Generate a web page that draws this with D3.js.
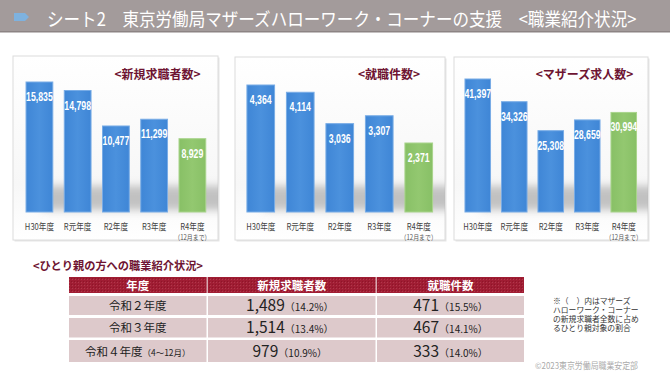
<!DOCTYPE html>
<html><head><meta charset="utf-8">
<script src="https://cdn.jsdelivr.net/npm/d3@7"></script>
<style>
html,body{margin:0;padding:0;background:#fff;}
svg{display:block;font-family:"Noto Sans CJK JP","Noto Sans",sans-serif;}
</style></head>
<body>
<script>
// ---- data ----
const categories = ["H30年度","R元年度","R2年度","R3年度","R4年度"];
const newSeekers = [15835,14798,10477,11299,8929];
const placements = [4364,4114,3036,3307,2371];
const motherJobs = [41397,34326,25308,28659,30994];
const panelTitles = ["<新規求職者数>","<就職件数>","<マザーズ求人数>"];
const lastNote = "（12月まで）";

const tableTitle = "<ひとり親の方への職業紹介状況>";
const tableHeaders = ["年度","新規求職者数","就職件数"];
const tableYears = ["令和２年度","令和３年度","令和４年度"];
const tableYearNotes = ["","","（4～12月）"];
const seekerCounts = ["1,489","1,514","979"];
const seekerShares = ["（14.2%）","（13.4%）","（10.9%）"];
const placeCounts = ["471","467","333"];
const placeShares = ["（15.5%）","（14.1%）","（14.0%）"];
const noteLines = ["※（　）内はマザーズ","ハローワーク・コーナー","の新規求職者全数に占め","るひとり親対象の割合"];
const copyright = "©2023東京労働局職業安定部";
const mainTitle = "シート2　東京労働局マザーズハローワーク・コーナーの支援　<職業紹介状況>";

const W=670,H=377;
const svg=d3.select("body").append("svg").attr("width",W).attr("height",H);
const defs=svg.append("defs");
defs.append("filter").attr("id","blur").attr("x","-20%").attr("y","-50%").attr("width","140%").attr("height","200%")
  .append("feGaussianBlur").attr("stdDeviation",4);
const pg=defs.append("linearGradient").attr("id","panelBg").attr("x1",0).attr("y1",0).attr("x2",0).attr("y2",1);
pg.append("stop").attr("offset","0%").attr("stop-color","#ffffff");
pg.append("stop").attr("offset","70%").attr("stop-color","#f7f7f7");
pg.append("stop").attr("offset","100%").attr("stop-color","#ffffff");
const bg=defs.append("linearGradient").attr("id","blueBar").attr("x1",0).attr("y1",0).attr("x2",1).attr("y2",0);
bg.append("stop").attr("offset","0%").attr("stop-color","#3f86d6");
bg.append("stop").attr("offset","50%").attr("stop-color","#4b91dd");
bg.append("stop").attr("offset","100%").attr("stop-color","#3f86d6");
const gg=defs.append("linearGradient").attr("id","greenBar").attr("x1",0).attr("y1",0).attr("x2",1).attr("y2",0);
gg.append("stop").attr("offset","0%").attr("stop-color","#88c066");
gg.append("stop").attr("offset","50%").attr("stop-color","#93c870");
gg.append("stop").attr("offset","100%").attr("stop-color","#88c066");
const pat=defs.append("pattern").attr("id","hatch").attr("width",3).attr("height",3).attr("patternUnits","userSpaceOnUse");
pat.append("rect").attr("width",3).attr("height",3).attr("fill","#a01d33");
pat.append("rect").attr("width",1).attr("height",1).attr("fill","#b0384b");
pat.append("rect").attr("x",2).attr("y",2).attr("width",1).attr("height",1).attr("fill","#8e1528");

// ---- header ----
svg.append("rect").attr("x",0).attr("y",0).attr("width",W).attr("height",31).attr("fill","#a39b9b");
svg.append("rect").attr("x",0).attr("y",31).attr("width",W).attr("height",1.5).attr("fill","#8c8484");
svg.append("path").attr("d","M14,13 L25,13 L29,17 L25,21 L14,21 Z").attr("fill","#7eb2df");
const tt=svg.append("text").attr("x",0).attr("y",0).attr("fill","#fff").attr("font-size",18.5).text(mainTitle);
const natural=tt.node().getComputedTextLength();
tt.attr("transform",`translate(47,26) scale(${590/natural},1)`);

// ---- panels ----
const panels=[
  {vals:newSeekers, box:[13,56,218,240], range:[20.3,211.5], top:82},
  {vals:placements, box:[235,57,445,240], range:[241,438.5], top:85},
  {vals:motherJobs, box:[454,57,648,240], range:[459.5,642], top:79}
];
const base=212;
panels.forEach((p,i)=>{
  const g=svg.append("g");
  const [x0,y0,x1,y1]=p.box;
  const cid="clip"+i;
  defs.append("clipPath").attr("id",cid).append("rect").attr("x",x0).attr("y",y0).attr("width",x1-x0).attr("height",y1-y0);
  g.append("rect").attr("x",x0+1.5).attr("y",y0+1.5).attr("width",x1-x0).attr("height",y1-y0).attr("fill","#e6e6e6");
  g.append("rect").attr("x",x0).attr("y",y0).attr("width",x1-x0).attr("height",y1-y0)
    .attr("fill","url(#panelBg)").attr("stroke","#dcdcdc").attr("stroke-width",1);
  const x=d3.scaleBand().domain(categories).range(p.range).paddingInner(0.3).paddingOuter(0.15);
  const y=d3.scaleLinear().domain([0,d3.max(p.vals)]).range([base,p.top]);
  g.append("g").attr("clip-path",`url(#${cid})`).append("rect")
    .attr("x",x(categories[0])+x.bandwidth()*0.6).attr("y",186).attr("width",x1-x(categories[0])).attr("height",24)
    .attr("fill","#b4b4b4").attr("opacity",0.8).attr("filter","url(#blur)");
  const bars=g.selectAll(".bar").data(p.vals).join("g");
  bars.append("rect")
    .attr("x",(d,j)=>x(categories[j])).attr("y",d=>y(d))
    .attr("width",x.bandwidth()).attr("height",d=>base-y(d))
    .attr("fill",(d,j)=>j===4?"url(#greenBar)":"url(#blueBar)")
    .attr("stroke",(d,j)=>j===4?"#a9d48c":"#78ace6").attr("stroke-width",1);
  bars.append("text")
    .attr("transform",(d,j)=>`translate(${x(categories[j])+x.bandwidth()/2},${y(d)+19}) scale(0.7,1)`)
    .attr("text-anchor","middle").attr("fill","#fff").attr("font-weight","bold").attr("font-size",12.5)
    .attr("font-family","'Liberation Sans',Arial,sans-serif")
    .text(d=>d3.format(",")(d));
  g.selectAll(".cat").data(categories).join("text")
    .attr("transform",d=>`translate(${x(d)+x.bandwidth()/2},230) scale(0.8,1)`)
    .attr("text-anchor","middle").attr("fill","#444").attr("font-size",9.5).text(d=>d);
  g.append("text")
    .attr("transform",`translate(${x(categories[4])+x.bandwidth()/2},239.5) scale(0.85,1)`)
    .attr("text-anchor","middle").attr("fill","#555").attr("font-size",7).text(lastNote);
});
const titlePos=[[157.5,78.5],[389,78.5],[584.5,78.5]];
panelTitles.forEach((t,i)=>{
  svg.append("text").attr("x",titlePos[i][0]).attr("y",titlePos[i][1]).attr("text-anchor","middle")
    .attr("fill","#6e1432").attr("font-weight","bold").attr("font-size",12).text(t);
});

// ---- table ----
svg.append("text").attr("x",33).attr("y",269.5).attr("fill","#6e1432").attr("font-weight","bold")
  .attr("font-size",11.5).attr("textLength",170).attr("lengthAdjust","spacingAndGlyphs").text(tableTitle);
const cols=[[69,206.5],[208,375.5],[377,524]];
svg.append("rect").attr("x",69).attr("y",277).attr("width",455).attr("height",16).attr("fill","url(#hatch)");
svg.append("rect").attr("x",206.5).attr("y",277).attr("width",1.5).attr("height",16).attr("fill","#d9a9b1");
svg.append("rect").attr("x",375.5).attr("y",277).attr("width",1.5).attr("height",16).attr("fill","#d9a9b1");
tableHeaders.forEach((h,i)=>{
  svg.append("text").attr("x",(cols[i][0]+cols[i][1])/2).attr("y",289.5).attr("text-anchor","middle")
    .attr("fill","#fff").attr("font-weight","bold").attr("font-size",11.5).text(h);
});
const rows=[[296,315],[318,337.5],[340,362]];
tableYears.forEach((yr,r)=>{
  const [ry0,ry1]=rows[r];
  cols.forEach(c=>{
    svg.append("rect").attr("x",c[0]).attr("y",ry0).attr("width",c[1]-c[0]).attr("height",ry1-ry0).attr("fill","#ddc9cb");
  });
  const cy=(ry0+ry1)/2+4.5;
  const t1=svg.append("text").attr("x",(cols[0][0]+cols[0][1])/2).attr("y",cy).attr("text-anchor","middle")
    .attr("fill","#222").attr("font-size",11.5);
  t1.append("tspan").text(yr);
  if(tableYearNotes[r]) t1.append("tspan").attr("font-size",8.5).text(tableYearNotes[r]);
  const t2=svg.append("text").attr("x",(cols[1][0]+cols[1][1])/2-2).attr("y",cy+1).attr("text-anchor","middle").attr("fill","#222");
  t2.append("tspan").attr("font-size",15.5).text(seekerCounts[r]);
  t2.append("tspan").attr("font-size",10).text(seekerShares[r]);
  const t3=svg.append("text").attr("x",(cols[2][0]+cols[2][1])/2).attr("y",cy+1).attr("text-anchor","middle").attr("fill","#222");
  t3.append("tspan").attr("font-size",15.5).text(placeCounts[r]);
  t3.append("tspan").attr("font-size",10).text(placeShares[r]);
});
const note=svg.append("text").attr("fill","#333").attr("font-size",7.8);
note.selectAll("tspan").data(noteLines).join("tspan")
  .attr("x",553).attr("y",(d,i)=>303.5+i*9.3).text(d=>d);
svg.append("text").attr("x",535).attr("y",368.5).attr("fill","#aaa").attr("font-size",8.6)
  .attr("textLength",103).attr("lengthAdjust","spacingAndGlyphs").text(copyright);
</script>
</body></html>
